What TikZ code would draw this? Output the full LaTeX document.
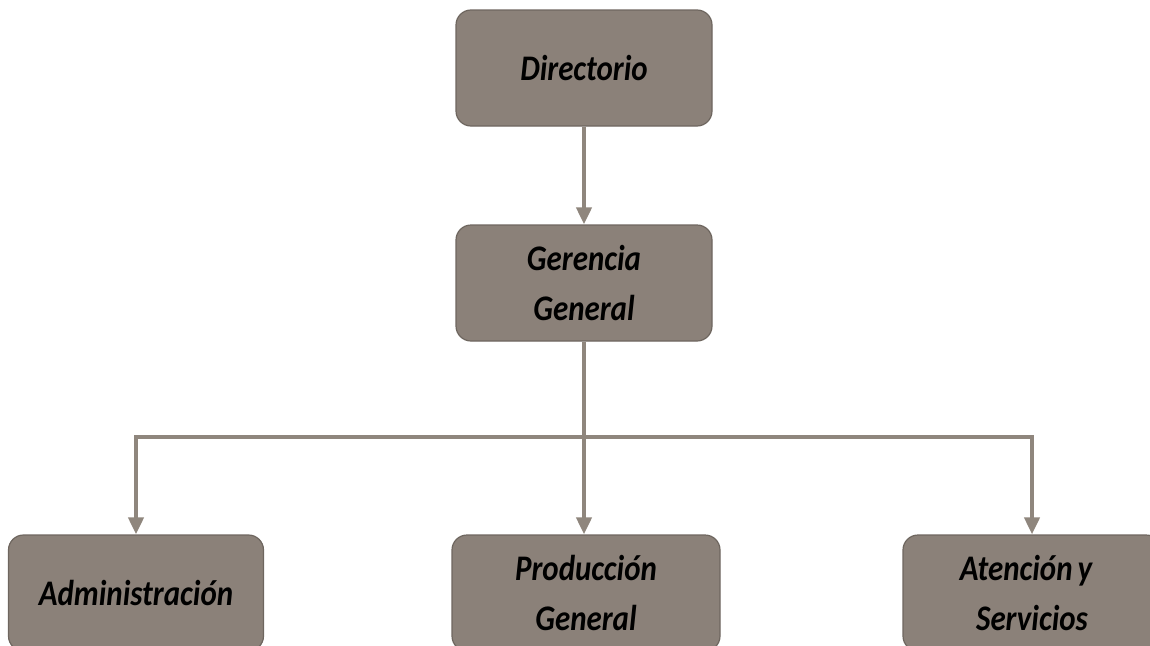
\documentclass[tikz,border=0pt]{standalone}
\usepackage{fontspec}
\setmainfont{Carlito}
\newfontfamily\boxfont[FakeStretch=0.86]{Carlito}
\usetikzlibrary{arrows.meta}
\definecolor{boxfill}{HTML}{8B8179}
\definecolor{boxline}{HTML}{6E665F}
\definecolor{connline}{HTML}{8F867D}
\begin{document}
\begin{tikzpicture}[x=1pt,y=-1pt,
  orgbox/.style={draw=boxline, line width=1.2pt, fill=boxfill, rounded corners=15pt,
    minimum height=116pt, align=center, inner sep=0pt,
    font=\boxfont\fontsize{36}{50}\selectfont\bfseries\itshape, text=black},
  conn/.style={draw=connline, line width=4pt},
  arr/.style={conn, -{Triangle[width=15pt,length=17pt]}}]
\useasboundingbox (0,0) rectangle (1150,645);
\clip (0,0) rectangle (1150,645);
\node[orgbox, minimum width=256pt] (dir) at (584,68) {Directorio};
\node[orgbox, minimum width=256pt] (ger) at (584,283) {Gerencia\\General};
\node[orgbox, minimum width=255pt] (adm) at (136,593) {Administración};
\node[orgbox, minimum width=268pt] (prod) at (586,593) {Producción\\General};
\node[orgbox, minimum width=258pt] (aten) at (1032,593) {\hspace*{-12pt}Atención\hspace{-2pt} y\\Servicios};
\coordinate (bus) at (584,437);
\draw[arr] (dir.south) -- (ger.north);
\draw[conn] (ger.south) -- (bus);
\draw[arr] (bus) -| (adm.north);
\draw[arr] (bus) -| (aten.north);
\draw[arr] (bus) -- (bus |- prod.north);
\end{tikzpicture}
\end{document}
